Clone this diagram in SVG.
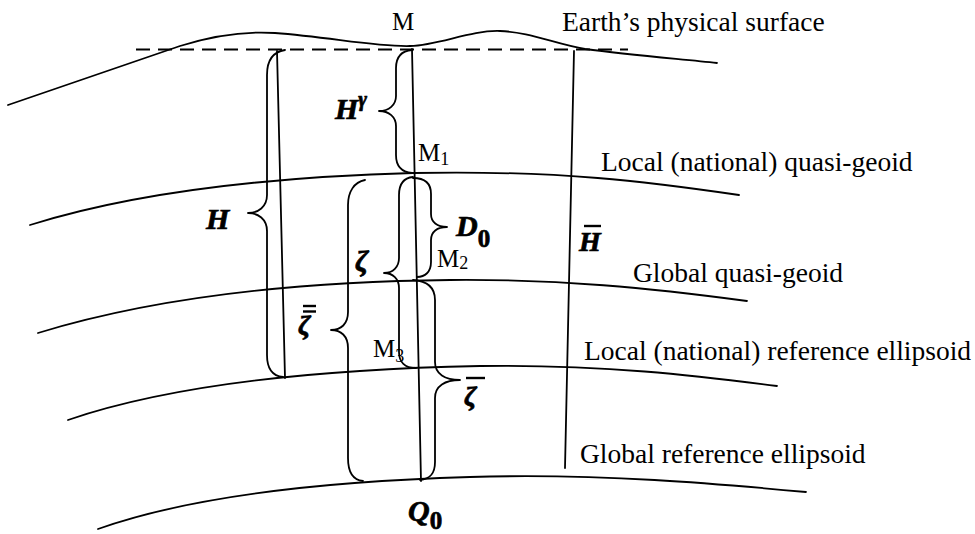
<svg xmlns="http://www.w3.org/2000/svg" width="975" height="534" viewBox="0 0 975 534">
<style>
.ln{fill:none;stroke:#000;stroke-width:1.8;stroke-linecap:round;stroke-linejoin:round}
.dash{fill:none;stroke:#000;stroke-width:1.8;stroke-dasharray:14 8}
.bar{stroke:#000;stroke-width:2.4}
.lbl{font-family:"Liberation Serif","Times New Roman",serif;font-size:27.5px;fill:#000}
.pt{font-family:"Liberation Serif","Times New Roman",serif;font-size:25px;fill:#000}
.m{font-family:"Liberation Serif","Times New Roman",serif;font-weight:bold;font-style:italic;fill:#000;stroke:#000;stroke-width:0.7}
.sub{font-family:"Liberation Serif","Times New Roman",serif;font-weight:bold;font-style:normal;fill:#000}
</style>
<rect width="975" height="534" fill="#fff"/>
<g id="surfaces">
<path id="earth" class="ln" d="M8,105 L180,46 C215,35 245,31 275,33 C330,37 375,47 410,46 C440,45 470,30 500,31 C530,32 555,44 585,49 C630,55 680,59 717,63"/>
<path id="local-quasi-geoid" class="ln" d="M30,225 C110,200 230,178 413,173 C560,170 650,182 739,195"/>
<path id="global-quasi-geoid" class="ln" d="M38,333 C120,308 250,282 450,280 C560,279 650,288 747,301"/>
<path id="local-ellipsoid" class="ln" d="M68,420 C150,392 280,370 480,366 C600,364 700,376 777,386"/>
<path id="global-ellipsoid" class="ln" d="M98,529 C180,500 300,482 470,477 C600,473 720,484 806,492"/>
<line id="tangent" class="dash" x1="136" y1="49.5" x2="628" y2="49.5"/>
</g>
<g id="connectors">
<line class="ln" x1="277" y1="51" x2="285" y2="378"/>
<line class="ln" x1="412" y1="49" x2="421" y2="481"/>
<line class="ln" x1="574" y1="51" x2="565" y2="468"/>
</g>
<g id="braces">
<path id="brace-H" class="ln" d="M285,50 C272,52 267,62 267,75 L267,195 C267,207 258,213 248,213 C258,213 267,219 267,231 L267,355 C267,368 272,376 283,377"/>
<path id="brace-Hg" class="ln" d="M412,50 C401,51 396,58 396,68 L396,96 C396,105 389,111 379,111 C389,111 396,117 396,126 L396,155 C396,166 401,172 412,173"/>
<path id="brace-zeta2" class="ln" d="M365,180 C354,182 348,192 348,205 L348,312 C348,324 341,330 331,330 C341,330 348,336 348,348 L348,458 C348,472 353,480 363,481"/>
<path id="brace-zeta" class="ln" d="M413,177 C403,178 399,185 399,195 L399,258 C399,267 393,273 384,273 C393,273 399,279 399,288 L399,352 C399,362 405,368 416,368"/>
<path id="brace-D0" class="ln" d="M413,178 C425,178 431,184 431,194 L431,214 C431,222 437,227 447,227 C437,227 431,232 431,240 L431,262 C431,272 425,277 417,277"/>
<path id="brace-zeta1" class="ln" d="M413,280 C428,281 435,288 435,300 L435,362 C435,374 445,380 460,380 C445,380 435,386 435,398 L435,462 C435,474 430,479 420,480"/>
</g>
<g id="labels">
<text class="lbl" x="562" y="31">Earth’s physical surface</text>
<text class="lbl" x="601" y="171">Local (national) quasi-geoid</text>
<text class="lbl" x="633" y="282">Global quasi-geoid</text>
<text class="lbl" x="584" y="360">Local (national) reference ellipsoid</text>
<text class="lbl" x="580" y="463">Global reference ellipsoid</text>
</g>
<g id="points">
<text class="pt" x="392" y="30">M</text>
<text class="pt" x="418" y="161">M<tspan font-size="18" dy="4">1</tspan></text>
<text class="pt" x="437" y="267">M<tspan font-size="18" dy="2">2</tspan></text>
<text class="pt" x="373" y="357">M<tspan font-size="18" dy="5">3</tspan></text>
</g>
<g id="symbols">
<text class="m" x="206" y="229" font-size="30">H</text>
<text class="m" x="335" y="119" font-size="30">H<tspan font-size="21" dy="-13">γ</tspan></text>
<text class="m" x="355" y="271" font-size="30">ζ</text>
<text class="m" x="456" y="236" font-size="30">D<tspan class="sub" stroke-width="0.7" stroke="#000" font-size="25" dy="11">0</tspan></text>
<g id="H-bar"><text class="m" x="579" y="251" font-size="28">H</text><line class="bar" x1="584" y1="226" x2="601" y2="226"/></g>
<g id="zeta-dbar"><text class="m" x="298" y="334" font-size="28">ζ</text><line class="bar" x1="303" y1="306" x2="316" y2="306"/><line class="bar" x1="303" y1="311.5" x2="316" y2="311.5"/></g>
<g id="zeta-bar"><text class="m" x="464" y="405" font-size="28">ζ</text><line class="bar" x1="466" y1="378" x2="485" y2="378"/></g>
<text class="m" x="408" y="521" font-size="30">Q<tspan class="sub" stroke-width="0.7" stroke="#000" font-size="25" dy="8">0</tspan></text>
</g>
</svg>
